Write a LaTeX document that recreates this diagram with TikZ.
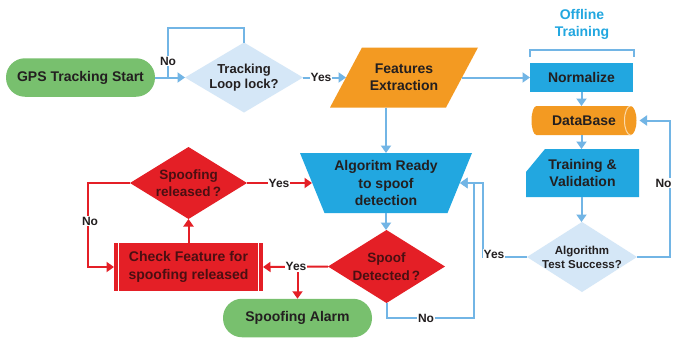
\documentclass[tikz,border=0pt]{standalone}
\usepackage{fontspec}
\setmainfont{Liberation Sans}
\usetikzlibrary{arrows.meta,calc}
\definecolor{cgreen}{HTML}{78C06E}
\definecolor{cblue}{HTML}{22A7E0}
\definecolor{corange}{HTML}{F39A22}
\definecolor{cred}{HTML}{E41F26}
\definecolor{clight}{HTML}{D5E7F7}
\definecolor{cline}{HTML}{72B5E5}
\definecolor{ctext}{HTML}{231F20}
\definecolor{credtext}{HTML}{4A0F12}
\definecolor{ccap}{HTML}{FBD9A8}
\tikzset{
  every node/.style={inner sep=0pt, outer sep=0pt, align=center, text=ctext,
    font=\bfseries\fontsize{14}{17.5}\selectfont},
  diafill/.style={path picture={\fill[#1] (path picture bounding box.north) -- (path picture bounding box.east) -- (path picture bounding box.south) -- (path picture bounding box.west) -- cycle;}},
  parafill/.style={path picture={\fill[#1] ([xshift=32pt]path picture bounding box.north west) -- (path picture bounding box.north east) -- ([xshift=-32pt]path picture bounding box.south east) -- (path picture bounding box.south west) -- cycle;}},
  trapfill/.style={path picture={\fill[#1] (path picture bounding box.north west) -- (path picture bounding box.north east) -- ([xshift=-24.5pt]path picture bounding box.south east) -- ([xshift=24.5pt]path picture bounding box.south west) -- cycle;}},
  cutfill/.style={path picture={\fill[#1] ([xshift=19pt]path picture bounding box.north west) -- (path picture bounding box.north east) -- (path picture bounding box.south east) -- (path picture bounding box.south west) -- ([yshift=-23pt]path picture bounding box.north west) -- cycle;}},
  cylfill/.style={path picture={\fill[#1] ([xshift=5pt]path picture bounding box.north west) arc[start angle=90,end angle=270,x radius=5pt,y radius=14.5pt] -- ([xshift=-6pt]path picture bounding box.south east) arc[start angle=-90,end angle=90,x radius=6pt,y radius=14.5pt] -- cycle;
     \draw[ccap, line width=1pt] ([xshift=-6pt]path picture bounding box.north east) arc[start angle=90,end angle=270,x radius=6pt,y radius=14.5pt];}},
  procfill/.style={fill=cred, path picture={\draw[white, line width=0.9pt] ([xshift=4.5pt]path picture bounding box.north west) -- ([xshift=4.5pt]path picture bounding box.south west);
     \draw[white, line width=0.9pt] ([xshift=-4.5pt]path picture bounding box.north east) -- ([xshift=-4.5pt]path picture bounding box.south east);}},
  pill/.style={fill=cgreen, rounded corners=19pt, minimum width=149pt, minimum height=38.5pt},
  bl/.style={draw=cline, line width=2pt},
  rd/.style={draw=cred, line width=2pt},
  arr/.style={-{Triangle[length=7.5pt,width=10pt]}},
  lab/.style={fill=white, inner sep=1pt, font=\bfseries\fontsize{12}{14}\selectfont},
}
\begin{document}
\begin{tikzpicture}[x=1pt,y=-1pt]
\useasboundingbox[fill=white] (0,0) rectangle (673,338);

% nodes
\node[pill] (gps) at (80.5,77.5) {GPS Tracking Start};
\node[diafill=clight, minimum width=118pt, minimum height=70pt,
      font=\bfseries\fontsize{13}{16}\selectfont] (track) at (244,77.5) {Tracking\\[-0.5pt]Loop lock?};
\node[parafill=corange, minimum width=148pt, minimum height=60pt,
      font=\bfseries\fontsize{14}{17}\selectfont] (fe) at (404,77.5) {Features\\Extraction};
\node[fill=cblue, minimum width=103pt, minimum height=29pt] (norm) at (581.5,77.5) {Normalize};
\node[text=cblue, font=\bfseries\fontsize{14}{17}\selectfont] (off) at (582,24.5) {Offline\\Training};
\node[cylfill=corange, minimum width=105pt, minimum height=29pt] (db) at (584,120.5) {DataBase};
\node[cutfill=cblue, minimum width=113pt, minimum height=48pt] (train) at (582.5,173) {Training \&\\Validation};
\node[diafill=clight, minimum width=110pt, minimum height=70pt,
      font=\bfseries\fontsize{11.5}{14}\selectfont] (test) at (582,257) {Algorithm\\Test Success?};
\node[trapfill=cblue, minimum width=172pt, minimum height=60pt] (alg) at (386,183) {Algoritm Ready\\to spoof\\detection};
\node[diafill=cred, minimum width=117pt, minimum height=73pt, text=credtext,
      font=\bfseries\fontsize{13.5}{17.5}\selectfont] (spoof) at (386.5,266.5) {Spoof\\Detected\,?};
\node[procfill, minimum width=149pt, minimum height=48pt, text=credtext] (check) at (188.5,267) {Check Feature for\\spoofing released};
\node[diafill=cred, minimum width=117pt, minimum height=72pt, text=credtext,
      font=\bfseries\fontsize{13.5}{17.5}\selectfont] (srel) at (188.5,183) {Spoofing\\released\,?};
\node[pill] (alarm) at (297.5,318) {Spoofing Alarm};

% bracket above Normalize
\draw[cline, line width=1.5pt] ([yshift=6pt]norm.north west) -- ([yshift=13pt]norm.north west)
  -- ([yshift=13pt,xshift=1pt]norm.north east) -- ([yshift=6pt,xshift=1pt]norm.north east);

% blue connectors
\draw[bl, arr] (gps.east) -- (track.west);
\coordinate (loopTL) at (168,28);
\draw[bl] (track.north) |- (loopTL) -- (loopTL |- track.west);
\draw[bl, arr] (track.east) -- ([xshift=16pt]fe.west);
\draw[bl, arr] ([xshift=-16pt]fe.east) -- (norm.west);
\draw[bl, arr] (norm.south) -- (norm.south |- db.north);
\draw[bl, arr] (norm.south |- db.south) -- (norm.south |- train.north);
\draw[bl, arr] (norm.south |- train.south) -- (norm.south |- test.north);
\draw[bl, arr] (test.east) -- ++(33,0) |- ([xshift=3pt]db.east);
\draw[bl, arr] (test.west) -- ++(-44,0) |- ([xshift=-12pt]alg.east);
\draw[bl, arr] (fe.south -| alg.north) -- (alg.north);
\draw[bl, arr] (alg.south) -- (alg.south |- spoof.north);
\draw[bl, arr] (spoof.south) -- ++(0,15) -| ([xshift=2pt]alg.east) -- ([xshift=-12pt]alg.east);

% red connectors
\draw[rd, arr] (spoof.west) -- (check.east);
\draw[rd, arr] (spoof.west -| alarm.north) -- (alarm.north);
\draw[rd, arr] (check.north) -- (srel.south);
\draw[rd, arr] (srel.east) -- ([xshift=12pt]alg.west);
\draw[rd, arr] (srel.west) -- ++(-42,0) |- (check.west);

% labels
\node[lab] (l1) at (168,61) {No};
\node[lab] (l2) at (321,77.5) {Yes};
\node[lab] (l3) at (663.5,183) {No};
\node[lab] (l4) at (494,254) {Yes};
\node[lab] (l5) at (426,318) {No};
\node[lab] (l6) at (296,266.5) {Yes};
\node[lab] (l7) at (279,183) {Yes};
\node[lab] (l8) at (90,221) {No};
\end{tikzpicture}
\end{document}
